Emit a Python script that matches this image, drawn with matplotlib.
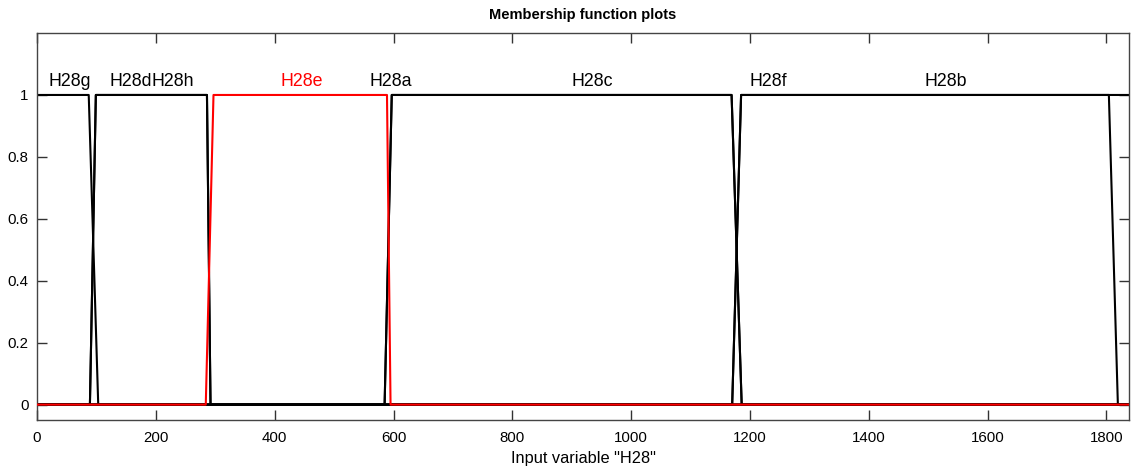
import matplotlib
matplotlib.use("Agg")
import matplotlib.pyplot as plt
import numpy as np

plt.rcParams['font.family'] = ['Liberation Sans', 'DejaVu Sans']

# trapezoidal membership functions for input "H28": [a, b, c, d]
mf_names = ['H28g', 'H28d', 'H28h', 'H28e', 'H28a', 'H28c', 'H28f', 'H28b']
mf_params = [
    [-20, -10, 87, 103],
    [89, 99, 286, 292],
    [89, 99, 286, 292],
    [284, 297, 589, 595],
    [585, 597, 1169, 1186],
    [585, 597, 1169, 1186],
    [1170, 1185, 1804, 1819],
    [1170, 1185, 1850, 1860],
]
# x position of each name above its plateau
label_x = [55, 158, 228, 446, 596, 934, 1231, 1530]
highlight = 'H28e'

x_range = [0, 1838]
x_ticks = [0, 200, 400, 600, 800, 1000, 1200, 1400, 1600, 1800]
y_ticks = [0, 0.2, 0.4, 0.6, 0.8, 1]


def trapmf(x, p):
    a, b, c, d = p
    return np.interp(x, [a, b, c, d], [0, 1, 1, 0], left=0, right=0)


fig = plt.figure(figsize=(11.36, 4.72), dpi=100)
ax = fig.add_axes([0.0326, 0.110, 0.9613, 0.820])

# black curves first, the selected one on top in red
order = [i for i, n in enumerate(mf_names) if n != highlight] + \
        [mf_names.index(highlight)]
for i in order:
    p = mf_params[i]
    xs = np.unique(np.concatenate([np.linspace(x_range[0], x_range[1], 4000),
                                   np.clip(p, x_range[0], x_range[1])]))
    color = 'red' if mf_names[i] == highlight else 'black'
    ax.plot(xs, trapmf(xs, p), color=color, linewidth=1.5, zorder=3 if color == 'red' else 2)
    ax.text(label_x[i], 1.045, mf_names[i], color=color, fontsize=12.8,
            ha='center', va='center')

ax.set_xlim(x_range)
ax.set_ylim(-0.05, 1.2)
ax.set_xticks(x_ticks)
ax.set_yticks(y_ticks)
ax.set_yticklabels(['0', '0.2', '0.4', '0.6', '0.8', '1'])
ax.tick_params(direction='in', length=7, width=1, colors='#333333',
               labelcolor='black', labelsize=10.8, top=True, right=True)
ax.tick_params(axis='x', pad=8)
ax.tick_params(axis='y', pad=6)
for s in ax.spines.values():
    s.set_color('#444444')
    s.set_linewidth(1)

ax.set_xlabel('Input variable "H28"', fontsize=11.8, labelpad=4)
ax.set_title('Membership function plots', fontsize=10.5, fontweight='bold', pad=10)

fig.savefig('out.png', dpi=100)
